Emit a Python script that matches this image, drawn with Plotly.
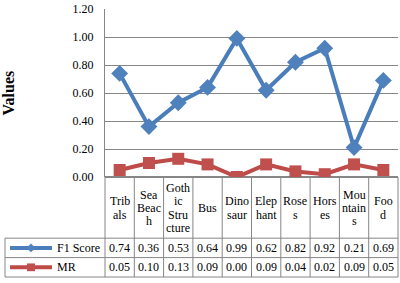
import plotly.graph_objects as go

categories = ["Tribals", "Sea Beach", "Gothic Structure", "Bus", "Dinosaur",
              "Elephant", "Roses", "Horses", "Mountains", "Food"]
header_labels = ["Trib<br>als", "Sea<br>Beac<br>h", "Goth<br>ic<br>Stru<br>cture", "Bus",
                 "Dino<br>saur", "Elep<br>hant", "Rose<br>s", "Hors<br>es",
                 "Mou<br>ntain<br>s", "Foo<br>d"]
f1_score = [0.74, 0.36, 0.53, 0.64, 0.99, 0.62, 0.82, 0.92, 0.21, 0.69]
mr = [0.05, 0.10, 0.13, 0.09, 0.00, 0.09, 0.04, 0.02, 0.09, 0.05]
series_names = ["F1 Score", "MR"]

W, H = 400, 283
L, R, T, B = 105, 2, 4, 106
PW = W - L - R
PH = H - T - B
BOTTOM = H - B  # pixel y of plot bottom

def py(p):  # pixel y -> paper
    return (BOTTOM - p) / PH

def px(x):  # pixel x -> paper
    return (x - L) / PW

BLUE_LINE, BLUE = "#4A7EBB", "#4F81BD"
RED_LINE, RED = "#BE4B48", "#C0504D"
GRID = "#868686"
FONT = "Liberation Serif, Times New Roman, serif"

fig = go.Figure()
fig.add_trace(go.Scatter(x=categories, y=f1_score, name=series_names[0], mode="lines+markers",
                         line=dict(color=BLUE_LINE, width=4),
                         marker=dict(symbol="diamond", size=13, color=BLUE)))
fig.add_trace(go.Scatter(x=categories, y=mr, name=series_names[1], mode="lines+markers",
                         line=dict(color=RED_LINE, width=4),
                         marker=dict(symbol="square", size=12, color=RED)))

shapes = []
annotations = []
n = len(categories)
# vertical lines of data table
for i in range(n + 1):
    shapes.append(dict(type="line", xref="paper", yref="paper",
                       x0=i / n, x1=i / n, y0=py(BOTTOM), y1=py(280),
                       line=dict(color=GRID, width=1)))
# horizontal lines
for yy in [240, 260, 280]:
    shapes.append(dict(type="line", xref="paper", yref="paper",
                       x0=px(5), x1=1, y0=py(yy), y1=py(yy),
                       line=dict(color=GRID, width=1)))
shapes.append(dict(type="line", xref="paper", yref="paper",
                   x0=px(5), x1=px(5), y0=py(240), y1=py(280),
                   line=dict(color=GRID, width=1)))

# header and values
LINE_H = 13.7
HEAD_C = 209
for i, cat in enumerate(categories):
    parts = header_labels[i].split("<br>")
    k = len(parts)
    for j, part in enumerate(parts):
        yc = HEAD_C + (j - (k - 1) / 2) * LINE_H
        annotations.append(dict(x=cat, xref="x", y=py(yc), yref="paper", text=part,
                                showarrow=False, font=dict(family=FONT, size=12, color="black"),
                                yanchor="middle", xanchor="center"))
    annotations.append(dict(x=cat, xref="x", y=py(250), yref="paper", text=f"{f1_score[i]:.2f}",
                            showarrow=False, font=dict(family=FONT, size=12, color="black"),
                            yanchor="middle", xanchor="center"))
    annotations.append(dict(x=cat, xref="x", y=py(270), yref="paper", text=f"{mr[i]:.2f}",
                            showarrow=False, font=dict(family=FONT, size=12, color="black"),
                            yanchor="middle", xanchor="center"))

# legend keys in table
for name, yy, lc, mc, sym in [(series_names[0], 250, BLUE_LINE, BLUE, "diamond"),
                              (series_names[1], 270, RED_LINE, RED, "square")]:
    shapes.append(dict(type="line", xref="paper", yref="paper",
                       x0=px(10), x1=px(52), y0=py(yy), y1=py(yy),
                       line=dict(color=lc, width=4)))
    cx, cy, s = 31, yy, 4.5
    if sym == "diamond":
        path = (f"M {px(cx - s)} {py(cy)} L {px(cx)} {py(cy - s)} "
                f"L {px(cx + s)} {py(cy)} L {px(cx)} {py(cy + s)} Z")
        shapes.append(dict(type="path", xref="paper", yref="paper", path=path,
                           fillcolor=mc, line=dict(color=mc, width=0)))
    else:
        s = 4
        shapes.append(dict(type="rect", xref="paper", yref="paper",
                           x0=px(cx - s), x1=px(cx + s), y0=py(cy - s), y1=py(cy + s),
                           fillcolor=mc, line=dict(color=mc, width=0)))
    annotations.append(dict(x=px(55), xref="paper", y=py(yy), yref="paper", text=name,
                            showarrow=False, font=dict(family=FONT, size=12, color="black"),
                            xanchor="left", yanchor="middle"))

annotations.append(dict(x=px(8), xref="paper", y=py(91), yref="paper", text="<b>Values</b>",
                        textangle=-90, showarrow=False,
                        font=dict(family=FONT, size=16, color="black"),
                        xanchor="center", yanchor="middle"))

fig.update_layout(
    width=W, height=H,
    margin=dict(l=L, r=R, t=T, b=B),
    paper_bgcolor="white", plot_bgcolor="white",
    showlegend=False,
    font=dict(family=FONT, size=12, color="black"),
    shapes=shapes, annotations=annotations,
    xaxis=dict(type="category", range=[-0.5, n - 0.5], showticklabels=False,
               showgrid=False, zeroline=False, showline=False, fixedrange=True),
    yaxis=dict(range=[0, 1.2], dtick=0.2, tickformat=".2f", showgrid=True,
               gridcolor=GRID, gridwidth=1, zeroline=True, zerolinecolor=GRID,
               showline=True, linecolor=GRID, linewidth=1, ticks="",
               ticklabelstandoff=8, ticklabeloverflow="allow",
               tickfont=dict(family=FONT, size=12, color="black"),
               fixedrange=True),
)

fig.write_html("out.html", config={"displayModeBar": False, "staticPlot": True},
               post_script="document.body.style.margin='0';document.body.style.overflow='hidden';")
